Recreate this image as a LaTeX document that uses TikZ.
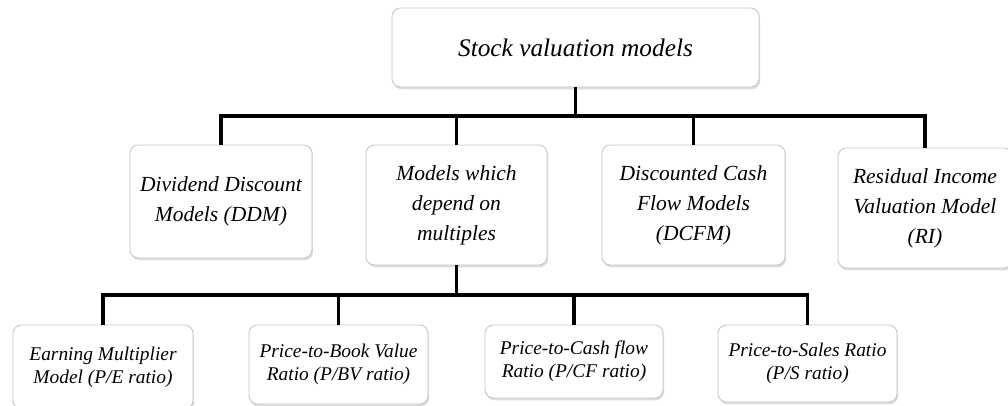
\documentclass[tikz,border=0pt]{standalone}
\usepackage{fontspec}
\setmainfont{Liberation Serif}
\usetikzlibrary{positioning}
\usetikzlibrary{shadows}

\begin{document}
\begin{tikzpicture}[x=0.025cm,y=-0.025cm,
		box/.style={draw=gray!45,line width=0.6pt,rounded corners=6pt,fill=white,align=center,inner sep=2pt,
			drop shadow={shadow xshift=0.8pt,shadow yshift=-1.6pt,fill=gray!55}},
		link/.style={line width=2.8pt},
		bigtext/.style={font=\fontsize{18}{22}\selectfont\itshape},
		midtext/.style={font=\fontsize{15.3}{21.3}\selectfont\itshape},
		smalltext/.style={font=\fontsize{13.8}{16.3}\selectfont\itshape}]
		\useasboundingbox (0,0) rectangle (1008,406);
		
		\node[box,bigtext,minimum width=9.175cm,minimum height=1.975cm] (top) at (575.5,47.5) {Stock valuation models};
		
		\node[box,midtext,minimum width=4.55cm,minimum height=2.825cm] (ddm) at (221,201.5) {Dividend Discount\\Models (DDM)};
		\node[box,midtext,minimum width=4.525cm,minimum height=3cm] (mult) at (456.5,205) {Models which\\depend on\\multiples};
		\node[box,midtext,minimum width=4.575cm,minimum height=3cm] (dcfm) at (693.5,205) {Discounted Cash\\Flow Models\\(DCFM)};
		\node[box,midtext,minimum width=4.35cm,minimum height=3cm] (ri) at (925,208) {Residual Income\\Valuation Model\\(RI)};
		
		\node[box,smalltext,minimum width=4.5cm,minimum height=2.1cm] (em) at (103,367) {Earning Multiplier\\Model (P/E ratio)};
		\node[box,smalltext,minimum width=4.475cm,minimum height=1.975cm] (pbv) at (338.5,364.5) {Price-to-Book Value\\Ratio (P/BV ratio)};
		\node[box,smalltext,minimum width=4.45cm,minimum height=1.825cm] (pcf) at (574,361.5) {Price-to-Cash flow\\Ratio (P/CF ratio)};
		\node[box,smalltext,minimum width=4.475cm,minimum height=1.925cm] (ps) at (807.5,363.5) {Price-to-Sales Ratio\\(P/S ratio)};
		
		% bars
		\coordinate (b1) at (577,116);
		\coordinate (b2) at (457,295);
		
		\draw[link] (top.south) -- (top.south |- b1);
		\draw[link] (ddm.north) |- (ri.north |- b1) -- (ri.north);
		\draw[link] (mult.north |- b1) -- (mult.north);
		\draw[link] (dcfm.north |- b1) -- (dcfm.north);
		
		\draw[link] (mult.south) -- (mult.south |- b2);
		\draw[link] (em.north) |- (ps.north |- b2) -- (ps.north);
		\draw[link] (pbv.north |- b2) -- (pbv.north);
		\draw[link] (pcf.north |- b2) -- (pcf.north);
\end{tikzpicture}
\end{document}
